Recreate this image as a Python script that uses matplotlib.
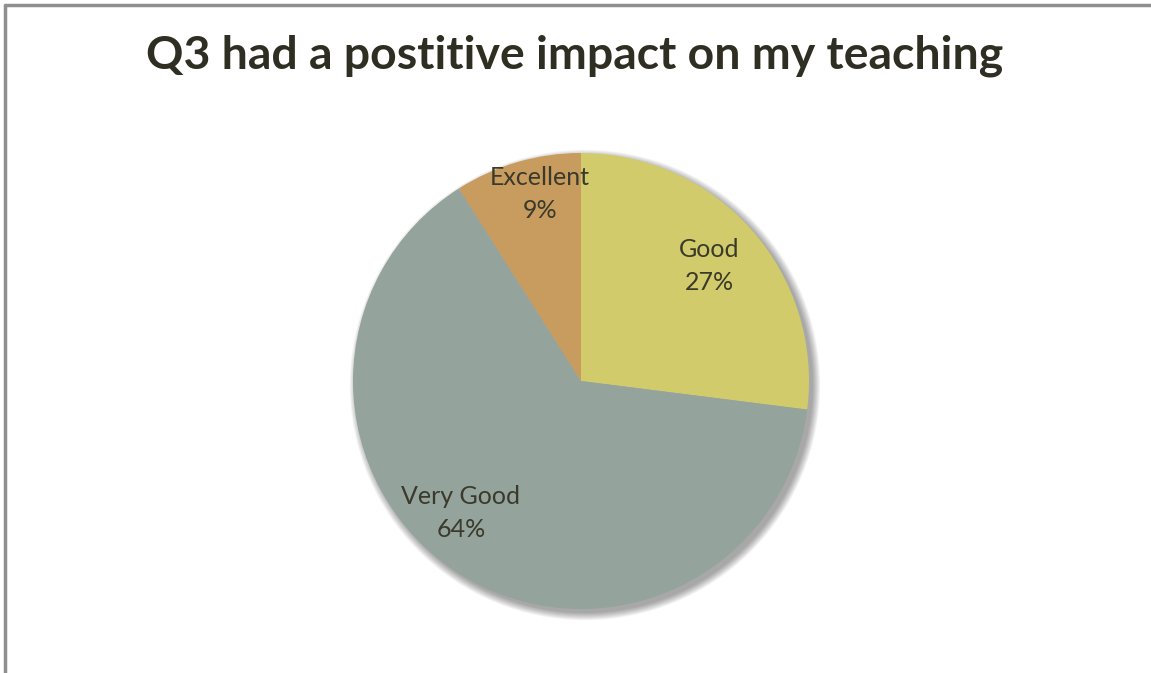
import matplotlib.pyplot as plt
from matplotlib.patches import Circle

categories = ["Good", "Very Good", "Excellent"]
shares = [27, 64, 9]
colors = ["#D2CB6C", "#94A39C", "#C89C5E"]

W, H = 1151, 673
fig = plt.figure(figsize=(W / 100, H / 100), dpi=100)
ax = fig.add_axes([0, 0, 1, 1])

cx, cy, r = 581, H - 381, 228

# soft drop shadow behind the pie
for i in range(9):
    ax.add_patch(Circle((cx + 4, cy - 4), r + i * 0.9, color="black",
                        alpha=0.045, lw=0, zorder=0))

wedges, _ = ax.pie(shares, colors=colors, startangle=90, counterclock=False,
                   center=(cx, cy), radius=r, frame=True,
                   wedgeprops=dict(linewidth=0))
for w in wedges:
    w.set_zorder(2)

# data labels
label_pos = [(709, H - 266), (461, H - 513), (540, H - 194)]
for name, val, (x, y) in zip(categories, shares, label_pos):
    ax.text(x, y, f"{name}\n{val}%", ha="center", va="center", fontsize=18,
            family="Lato", color="#3a3a2c", linespacing=1.5, zorder=3)

ax.text(W / 2 - 1, H - 56, "Q3 had a postitive impact on my teaching",
        ha="center", va="center", fontsize=33.4, fontweight="bold",
        family="Lato", color="#2e2e22")

# chart area border (continues past the right and bottom edges)
ax.plot([5.5, 5.5], [0, H - 4], color="#8f8f8f", lw=2.5, solid_capstyle="butt")
ax.plot([4, W], [H - 4.5, H - 4.5], color="#8f8f8f", lw=2.5, solid_capstyle="butt")

ax.set_xlim(0, W)
ax.set_ylim(0, H)
ax.set_aspect("auto")
ax.axis("off")

fig.savefig("out.png", dpi=100, facecolor="white")
